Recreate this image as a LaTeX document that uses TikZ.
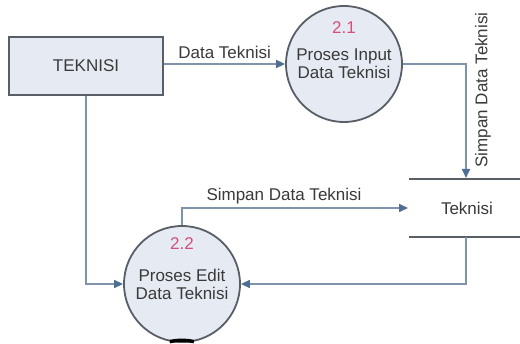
\documentclass[tikz,border=0pt]{standalone}
\usepackage{fontspec}
\setmainfont{Liberation Sans}
\usetikzlibrary{arrows.meta}
\definecolor{flowc}{HTML}{7F93AB}
\definecolor{tipc}{HTML}{4F6E93}
\definecolor{fillc}{HTML}{E6EAF3}
\definecolor{edgec}{HTML}{595F66}
\definecolor{txtc}{HTML}{3A3A3A}
\definecolor{numc}{HTML}{D2507A}
\tikzset{
  every node/.style={font=\fontsize{17}{19}\selectfont, text=txtc},
  entity/.style={draw=edgec, line width=2.2pt, fill=fillc, minimum width=154pt, minimum height=58pt, inner sep=0pt},
  proc/.style={circle, draw=edgec, line width=1.8pt, fill=fillc, minimum size=116pt, inner sep=0pt, align=center},
  num/.style={text=numc},
  flow/.style={draw=flowc, line width=1.6pt, -{Triangle[length=9pt,width=8pt,color=tipc]}},
  storeline/.style={draw=edgec, line width=2pt},
}
\begin{document}
\begin{tikzpicture}[x=1pt,y=-1pt]
\useasboundingbox[fill=white] (0,0) rectangle (520,344);
% entity
\node[entity] (ent) at (86,66) {TEKNISI};
% processes
\node[proc] (p21) at (344,64) {Proses Input\\[-1pt]Data Teknisi};
\node[num] (n21) at (344,28) {2.1};
\node[proc] (p22) at (182,284) {Proses Edit\\[-1pt]Data Teknisi};
\node[num] (n22) at (182,244) {2.2};
\draw[black, line width=3.5pt] (p22.258) arc[start angle=258, end angle=282, radius=58];
% data store
\coordinate (stl) at (409,179);
\coordinate (str) at (520,179);
\coordinate (sbl) at (409,237);
\coordinate (sbr) at (520,237);
\draw[storeline] (stl) -- (str);
\draw[storeline] (sbl) -- (sbr);
\node (store) at (467,208) {Teknisi};
\coordinate (storeTop) at (466,178);
\coordinate (storeBot) at (466,237);
\coordinate (storeLeft) at (408,208);
% flows
\draw[flow] (ent.east |- p21.west) -- node[above=1pt] (l1) {Data Teknisi} (p21.west);
\draw[flow] (p21.east) -| (storeTop);
\node[rotate=90] (l2) at (483,90) {Simpan Data Teknisi};
\coordinate (c1) at (182,208);
\draw[flow] (p22.north) -- (c1) -- (storeLeft);
\node (l3) at (284,196) {Simpan Data Teknisi};
\draw[flow] (storeBot) |- (p22.east);
\draw[flow] (ent.south) |- (p22.west);
\end{tikzpicture}
\end{document}
